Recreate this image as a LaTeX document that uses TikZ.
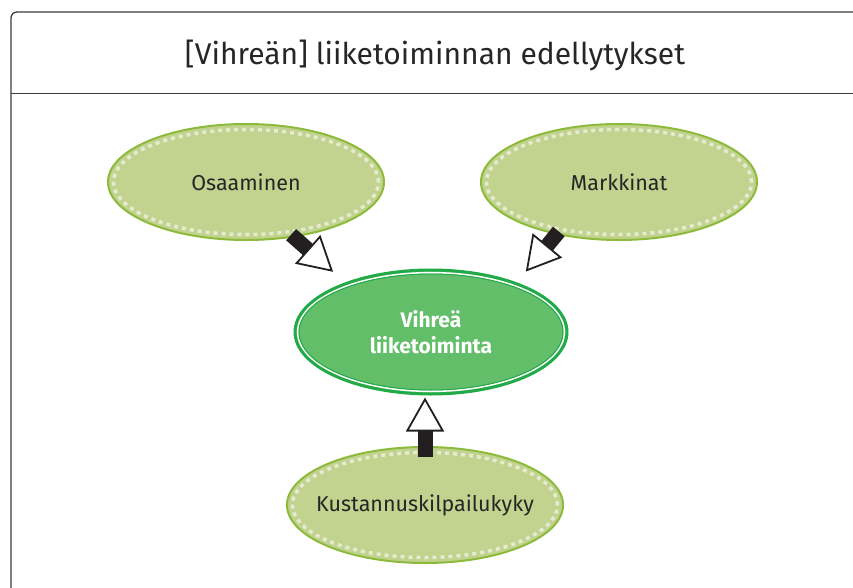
\documentclass[tikz,border=0pt]{standalone}
\usepackage{fontspec}
\setmainfont{Fira Sans}
\usepackage{tikz}
\usetikzlibrary{shapes, arrows.meta, positioning}

\definecolor{factorfill}{HTML}{C2D28F}
\definecolor{factorline}{HTML}{8CBA3A}
\definecolor{factordash}{HTML}{E4ECD0}
\definecolor{goalfill}{HTML}{63BE69}
\definecolor{goalline}{HTML}{22AA48}
\definecolor{stemblack}{HTML}{231F20}
\definecolor{framegray}{HTML}{3C3C3C}

\begin{document}
\begin{tikzpicture}[
    x=1pt, y=-1pt,
    factor/.style={ellipse, draw=factorline, line width=2pt, fill=factorfill, minimum width=276pt, minimum height=116pt, inner sep=0pt, font=\fontsize{21.5}{25}\selectfont, text=black!85},
    goal/.style={ellipse, draw=goalline, line width=3pt, fill=goalfill, minimum width=272pt, minimum height=124pt, inner sep=0pt, align=center, text=white, font=\bfseries\fontsize{21}{26}\selectfont},
    dashring/.style={draw=factordash, line width=3.5pt, dash pattern=on 4pt off 4pt},
    arrow/.style={line width=15pt, stemblack, -{Triangle[fill=white, length=34pt, width=38pt, line width=1.8pt]}}
]
\useasboundingbox (0,0) rectangle (853,588);
\clip (0,0) rectangle (853,588);

% frame and heading
\draw[framegray, line width=1.3pt, rounded corners=6pt] (11,12) rectangle (866,600);
\draw[framegray, line width=1pt] (11,94) -- (853,94);
\node[font=\fontsize{30}{36}\selectfont, text=black!85] (title) at (435,55) {[Vihreän] liiketoiminnan edellytykset};

% ellipses
\node[goal] (green) at (431,332) {Vihreä\\liiketoiminta};
\draw[white, line width=1.6pt] (green.center) ellipse [x radius=133.3pt, y radius=59.3pt];
\draw[goalline, line width=1pt] (green.center) ellipse [x radius=132pt, y radius=58pt];
\node[factor] (skills) at (246,182) {\makebox[0pt]{Osaaminen}};
\node[factor] (markets) at (619,182) {\makebox[0pt]{Markkinat}};
\node[factor] (cost) at (425,505) {\makebox[0pt]{Kustannuskilpailukyky}};
\foreach \n in {skills, markets, cost}
    \draw[dashring] (\n.center) ellipse [x radius=132.5pt, y radius=52.5pt];

% block arrows
\draw[arrow, shorten <=-4pt, shorten >=16pt] (skills.-49) -- (green.150);
\draw[arrow, shorten <=-4pt, shorten >=14pt] (markets.-140) -- (green.30);
\draw[arrow, shorten <=-11pt, shorten >=2pt] (cost.north) -- (cost.north |- green.south);
\end{tikzpicture}
\end{document}
